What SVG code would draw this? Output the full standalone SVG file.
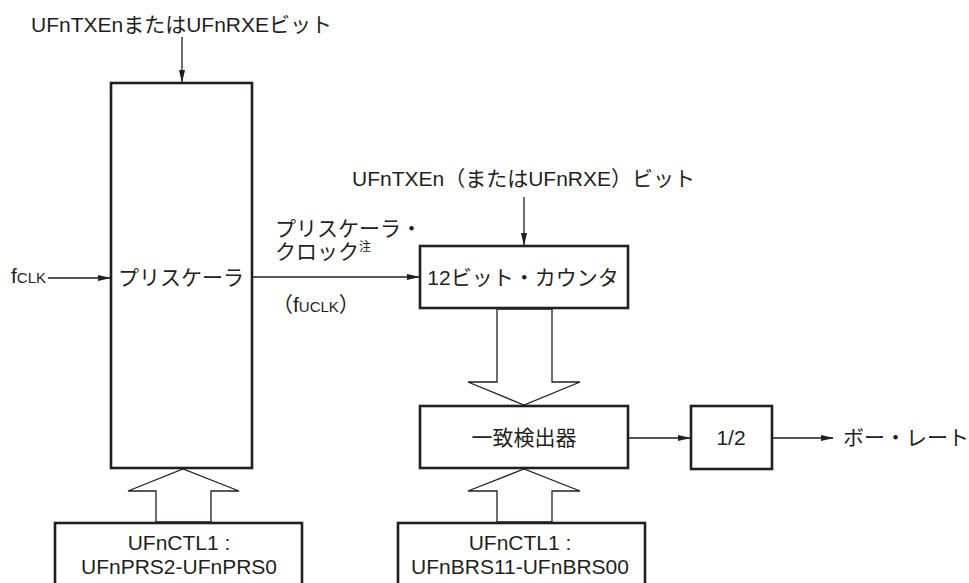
<svg xmlns="http://www.w3.org/2000/svg" width="969" height="583" viewBox="0 0 969 583">
<style>
text{font-family:"Liberation Sans","Noto Sans CJK JP",sans-serif;font-size:21px;fill:#231f20}
.box{fill:#fff;stroke:#231f20;stroke-width:2.6}
.ln{fill:none;stroke:#231f20;stroke-width:1.3}
.wide{fill:#fff;stroke:#231f20;stroke-width:1.3;stroke-linejoin:miter}
.sub{font-size:15px}
.m{text-anchor:middle}
</style>
<defs>
<marker id="ah" markerWidth="13" markerHeight="8" refX="12" refY="4" orient="auto" markerUnits="userSpaceOnUse">
<path d="M0,1 L13,4 L0,7 Z" fill="#231f20"/>
</marker>
</defs>
<g id="connectors">
<line class="ln" x1="182" y1="37" x2="182" y2="82" marker-end="url(#ah)"/>
<line class="ln" x1="48" y1="278" x2="110" y2="278" marker-end="url(#ah)"/>
<line class="ln" x1="253" y1="277" x2="419" y2="277" marker-end="url(#ah)"/>
<line class="ln" x1="524" y1="197" x2="524" y2="245" marker-end="url(#ah)"/>
<line class="ln" x1="628" y1="438" x2="690" y2="438" marker-end="url(#ah)"/>
<line class="ln" x1="772" y1="438" x2="833" y2="438" marker-end="url(#ah)"/>
<polygon class="wide" points="497,309 552,309 552,382 580,382 524,405 468,382 497,382"/>
<polygon class="wide" points="156,522 211,522 211,491 239,491 183,469 128,491 156,491"/>
<polygon class="wide" points="497,522 552,522 552,491 580,491 524,469 468,491 497,491"/>
</g>
<g id="label-top"><text x="31" y="32">UFnTXEnまたはUFnRXEビット</text></g>
<g id="label-fclk"><text x="11" y="283">f<tspan class="sub">CLK</tspan></text></g>
<g id="prescaler">
<rect class="box" x="111" y="83" width="141" height="385"/>
<text class="m" x="181" y="285">プリスケーラ</text>
</g>
<g id="label-pclk">
<text x="275" y="236">プリスケーラ・</text>
<text x="275" y="259">クロック<tspan font-size="12" dy="-8">注</tspan></text>
<text x="272" y="312">（f<tspan class="sub">UCLK</tspan>）</text>
</g>
<g id="label-counter-en"><text x="352" y="186">UFnTXEn（またはUFnRXE）ビット</text></g>
<g id="counter">
<rect class="box" x="420" y="246" width="208" height="62"/>
<text class="m" x="523" y="285">12ビット・カウンタ</text>
</g>
<g id="matcher">
<rect class="box" x="420" y="406" width="208" height="62"/>
<text class="m" x="524" y="445">一致検出器</text>
</g>
<g id="half">
<rect class="box" x="691" y="406" width="81" height="63"/>
<text class="m" x="731" y="445">1/2</text>
</g>
<g id="label-baud"><text x="843" y="445" font-size="20">ボー・レート</text></g>
<g id="ctl-prs">
<rect class="box" x="55" y="523" width="247" height="80"/>
<text class="m" x="179" y="550">UFnCTL1 :</text>
<text class="m" x="179" y="574">UFnPRS2-UFnPRS0</text>
</g>
<g id="ctl-brs">
<rect class="box" x="398" y="523" width="247" height="80"/>
<text class="m" x="520" y="550">UFnCTL1 :</text>
<text class="m" x="520" y="574">UFnBRS11-UFnBRS00</text>
</g>
</svg>
